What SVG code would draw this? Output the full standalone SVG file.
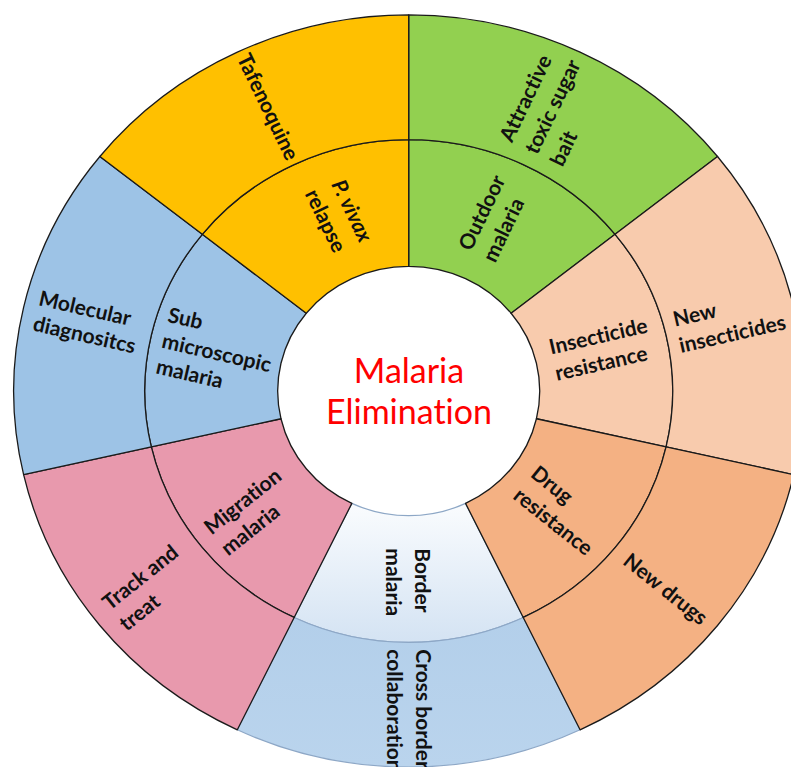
<svg xmlns="http://www.w3.org/2000/svg" width="791" height="767" viewBox="0 0 791 767">
<defs>
<linearGradient id="gBorderIn" x1="0" y1="0" x2="0" y2="1">
<stop offset="0" stop-color="#FAFCFE"/>
<stop offset="1" stop-color="#D4E3F3"/>
</linearGradient>
<linearGradient id="gBorderOut" x1="0" y1="0" x2="0" y2="1">
<stop offset="0" stop-color="#B3CFEA"/>
<stop offset="1" stop-color="#BAD4ED"/>
</linearGradient>
<style>
.cell{stroke:#1a1a1a;stroke-width:1.3;vector-effect:non-scaling-stroke;stroke-linejoin:round}
.soft{stroke:#8DA7C6;stroke-width:1.2;vector-effect:non-scaling-stroke}
text{font-variant-ligatures:none;font-feature-settings:"liga" 0,"dlig" 0}
.lbl{font-family:Lato,"Liberation Sans",sans-serif;font-weight:bold;font-size:21px;fill:#111}
.ctr{font-family:Lato,"Liberation Sans",sans-serif;font-size:34px;fill:#FF0000;text-anchor:middle}
</style>
</defs>
<rect width="791" height="767" fill="#FFFFFF"/>

<g id="border-malaria">
<path class="soft" fill="url(#gBorderIn)" transform="matrix(1 0 0 0.952 408.7 391)" d="M 114.54 237.86 A 264 264 0 0 1 -114.54 237.86 L -56.84 118.03 A 131 131 0 0 0 56.84 118.03 Z"/>
<text class="lbl" transform="translate(415,548.3) rotate(90)"><tspan x="0" y="0">Border</tspan><tspan x="0" dy="29">malaria</tspan></text>
</g>
<g id="cross-border-collaboration">
<path class="soft" fill="url(#gBorderOut)" transform="matrix(1 0 0 0.952 408.7 391)" d="M 171.38 355.88 A 395 395 0 0 1 -171.38 355.88 L -114.54 237.86 A 264 264 0 0 0 114.54 237.86 Z"/>
<text class="lbl" transform="translate(415.7,649.3) rotate(90)"><tspan x="0" y="0">Cross border</tspan><tspan x="0" dy="29">collaboration</tspan></text>
</g>

<g id="outdoor-malaria">
<path class="cell" fill="#92D050" transform="matrix(1 0 0 0.952 408.7 391)" d="M 0 -264 A 264 264 0 0 1 206.40 -164.60 L 102.42 -81.68 A 131 131 0 0 0 0 -131 Z"/>
<text class="lbl" transform="translate(471,252) rotate(-64.29)"><tspan x="0" y="0">Outdoor</tspan><tspan x="0" dy="27">malaria</tspan></text>
</g>
<g id="attractive-toxic-sugar-bait">
<path class="cell" fill="#92D050" transform="matrix(1 0 0 0.952 408.7 391)" d="M 0 -395 A 395 395 0 0 1 308.82 -246.28 L 206.40 -164.60 A 264 264 0 0 0 0 -264 Z"/>
<text class="lbl" transform="translate(512,143.4) rotate(-64.29)"><tspan x="0" y="0">Attractive</tspan><tspan x="0" dy="28">toxic sugar</tspan><tspan x="0" dy="28">bait</tspan></text>
</g>

<g id="insecticide-resistance">
<path class="cell" fill="#F8CBAD" transform="matrix(1 0 0 0.952 408.7 391)" d="M 206.40 -164.60 A 264 264 0 0 1 257.38 58.75 L 127.72 29.15 A 131 131 0 0 0 102.42 -81.68 Z"/>
<text class="lbl" transform="translate(551,354.5) rotate(-12.86)"><tspan x="0" y="0">Insecticide</tspan><tspan x="0" dy="27">resistance</tspan></text>
</g>
<g id="new-insecticides">
<path class="cell" fill="#F8CBAD" transform="matrix(1 0 0 0.952 408.7 391)" d="M 308.82 -246.28 A 395 395 0 0 1 385.10 87.90 L 257.38 58.75 A 264 264 0 0 0 206.40 -164.60 Z"/>
<text class="lbl" transform="translate(675,326.7) rotate(-12.86)"><tspan x="0" y="0">New</tspan><tspan x="0" dy="27">insecticides</tspan></text>
</g>

<g id="drug-resistance">
<path class="cell" fill="#F4B183" transform="matrix(1 0 0 0.952 408.7 391)" d="M 257.38 58.75 A 264 264 0 0 1 114.54 237.86 L 56.84 118.03 A 131 131 0 0 0 127.72 29.15 Z"/>
<text class="lbl" transform="translate(529.4,476.1) rotate(38.57)"><tspan x="0" y="0">Drug</tspan><tspan x="0" dy="28">resistance</tspan></text>
</g>
<g id="new-drugs">
<path class="cell" fill="#F4B183" transform="matrix(1 0 0 0.952 408.7 391)" d="M 385.10 87.90 A 395 395 0 0 1 171.38 355.88 L 114.54 237.86 A 264 264 0 0 0 257.38 58.75 Z"/>
<text class="lbl" transform="translate(621.8,563.5) rotate(38.57)">New drugs</text>
</g>

<g id="migration-malaria">
<path class="cell" fill="#E899AD" transform="matrix(1 0 0 0.952 408.7 391)" d="M -114.54 237.86 A 264 264 0 0 1 -257.38 58.75 L -127.72 29.15 A 131 131 0 0 0 -56.84 118.03 Z"/>
<text class="lbl" transform="translate(211.5,535.5) rotate(-38.57)"><tspan x="0" y="0">Migration</tspan><tspan x="0" dy="27">malaria</tspan></text>
</g>
<g id="track-and-treat">
<path class="cell" fill="#E899AD" transform="matrix(1 0 0 0.952 408.7 391)" d="M -171.38 355.88 A 395 395 0 0 1 -385.10 87.90 L -257.38 58.75 A 264 264 0 0 0 -114.54 237.86 Z"/>
<text class="lbl" transform="translate(109.7,610.9) rotate(-38.57)"><tspan x="0" y="0">Track and</tspan><tspan x="0" dy="27">treat</tspan></text>
</g>

<g id="sub-microscopic-malaria">
<path class="cell" fill="#9DC3E6" transform="matrix(1 0 0 0.952 408.7 391)" d="M -257.38 58.75 A 264 264 0 0 1 -206.40 -164.60 L -102.42 -81.68 A 131 131 0 0 0 -127.72 29.15 Z"/>
<text class="lbl" transform="translate(166.7,321.7) rotate(12.86)"><tspan x="0" y="0">Sub</tspan><tspan x="0" dy="26.5">microscopic</tspan><tspan x="0" dy="26.5">malaria</tspan></text>
</g>
<g id="molecular-diagnositcs">
<path class="cell" fill="#9DC3E6" transform="matrix(1 0 0 0.952 408.7 391)" d="M -385.10 87.90 A 395 395 0 0 1 -308.82 -246.28 L -206.40 -164.60 A 264 264 0 0 0 -257.38 58.75 Z"/>
<text class="lbl" transform="translate(37.7,305) rotate(12.86)"><tspan x="0" y="0">Molecular</tspan><tspan x="0" dy="26">diagnositcs</tspan></text>
</g>

<g id="p-vivax-relapse">
<path class="cell" fill="#FFC000" transform="matrix(1 0 0 0.952 408.7 391)" d="M -206.40 -164.60 A 264 264 0 0 1 0 -264 L 0 -131 A 131 131 0 0 0 -102.42 -81.68 Z"/>
<text class="lbl" transform="translate(331.1,184.3) rotate(64.29)"><tspan x="0" y="0" font-style="italic">P. vivax</tspan><tspan x="-3" dy="28">relapse</tspan></text>
</g>
<g id="tafenoquine">
<path class="cell" fill="#FFC000" transform="matrix(1 0 0 0.952 408.7 391)" d="M -308.82 -246.28 A 395 395 0 0 1 0 -395 L 0 -264 A 264 264 0 0 0 -206.40 -164.60 Z"/>
<text class="lbl" transform="translate(236.4,58.1) rotate(64.29)">Tafenoquine</text>
</g>

<g id="malaria-elimination">
<text class="ctr" x="409" y="382.7">Malaria</text>
<text class="ctr" x="409" y="424">Elimination</text>
</g>
</svg>
